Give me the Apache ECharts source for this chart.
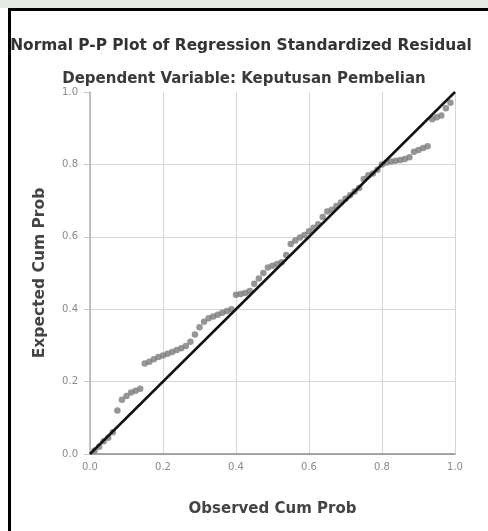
<!DOCTYPE html>
<html>
<head>
<meta charset="utf-8">
<script src="https://cdn.jsdelivr.net/npm/echarts@6/dist/echarts.min.js"></script>
<style>
    html, body { margin: 0; padding: 0; background: #fff; }
    #chart { width: 488px; height: 531px; }
</style>
</head>
<body>
<div id="chart"></div>
<script>
    // observed cum prob (x) and expected cum prob (y)
    var observed = [0.0125, 0.025, 0.0375, 0.05, 0.0625, 0.075, 0.0875, 0.1, 0.1125, 0.125,
        0.1375, 0.15, 0.1625, 0.175, 0.1875, 0.2, 0.2125, 0.225, 0.2375, 0.25,
        0.2625, 0.275, 0.2875, 0.3, 0.3125, 0.325, 0.3375, 0.35, 0.3625, 0.375,
        0.3875, 0.4, 0.4125, 0.425, 0.4375, 0.45, 0.4625, 0.475, 0.4875, 0.5,
        0.5125, 0.525, 0.5375, 0.55, 0.5625, 0.575, 0.5875, 0.6, 0.6125, 0.625,
        0.6375, 0.65, 0.6625, 0.675, 0.6875, 0.7, 0.7125, 0.725, 0.7375, 0.75,
        0.7625, 0.775, 0.7875, 0.8, 0.8125, 0.825, 0.8375, 0.85, 0.8625, 0.875,
        0.8875, 0.9, 0.9125, 0.925, 0.9375, 0.95, 0.9625, 0.975, 0.9875];
    var expected = [0.01, 0.02, 0.035, 0.045, 0.06, 0.12, 0.15, 0.16, 0.17, 0.175,
        0.18, 0.25, 0.255, 0.262, 0.268, 0.272, 0.277, 0.282, 0.287, 0.292,
        0.298, 0.31, 0.33, 0.35, 0.365, 0.375, 0.38, 0.385, 0.39, 0.395,
        0.40, 0.44, 0.442, 0.445, 0.45, 0.47, 0.485, 0.5, 0.515, 0.52,
        0.525, 0.53, 0.55, 0.58, 0.59, 0.598, 0.605, 0.615, 0.625, 0.635,
        0.655, 0.67, 0.675, 0.685, 0.695, 0.705, 0.715, 0.725, 0.735, 0.76,
        0.77, 0.775, 0.785, 0.80, 0.805, 0.808, 0.81, 0.812, 0.815, 0.82,
        0.835, 0.84, 0.845, 0.85, 0.925, 0.93, 0.935, 0.955, 0.97];
    var refLine = [[0, 0], [1, 1]];
    var tickLabels = ['0.0', '0.2', '0.4', '0.6', '0.8', '1.0'];

    var points = [];
    for (var i = 0; i < observed.length; i++) {
        points.push([observed[i], expected[i]]);
    }

    var font = '"DejaVu Sans", Verdana, sans-serif';
    var axisLabel = {
        color: '#8a8a8a',
        fontSize: 10,
        fontFamily: font,
        formatter: function (v) { return tickLabels[Math.round(v * 5)]; }
    };

    var myChart = echarts.init(document.getElementById('chart'));
    myChart.setOption({
        animation: false,
        backgroundColor: '#fff',
        graphic: [
            { type: 'rect', shape: { x: 0, y: 0, width: 488, height: 8 }, style: { fill: '#e6e9e6' } },
            { type: 'rect', shape: { x: 8, y: 8, width: 480, height: 3 }, style: { fill: '#000' }, z: 10 },
            { type: 'rect', shape: { x: 8, y: 8, width: 3, height: 523 }, style: { fill: '#000' }, z: 10 }
        ],
        title: [{
            text: 'Normal P-P Plot of Regression Standardized Residual',
            left: 236,
            top: 33,
            textAlign: 'center',
            textStyle: { fontSize: 15.4, fontWeight: 'bold', color: '#333', fontFamily: font }
        }, {
            text: 'Dependent Variable: Keputusan Pembelian',
            left: 239,
            top: 67,
            textAlign: 'center',
            textStyle: { fontSize: 15, fontWeight: 'bold', color: '#3a3a3a', fontFamily: font }
        }],
        grid: {
            left: 90,
            right: 33,
            top: 92,
            bottom: 77
        },
        xAxis: {
            type: 'value',
            min: 0,
            max: 1,
            interval: 0.2,
            name: 'Observed Cum Prob',
            nameLocation: 'middle',
            nameGap: 48,
            nameTextStyle: { fontSize: 15, fontWeight: 'bold', color: '#444', fontFamily: font },
            axisLine: { lineStyle: { color: '#8a8a8a', width: 1.5 } },
            axisTick: { show: false },
            axisLabel: Object.assign({ margin: 8 }, axisLabel),
            splitLine: { lineStyle: { color: '#d6d6d6', width: 1 } }
        },
        yAxis: {
            type: 'value',
            min: 0,
            max: 1,
            interval: 0.2,
            name: 'Expected Cum Prob',
            nameLocation: 'middle',
            nameGap: 42,
            nameTextStyle: { fontSize: 15.5, fontWeight: 'bold', color: '#444', fontFamily: font },
            axisLine: { show: true, lineStyle: { color: '#b0b0b0', width: 1.5 } },
            axisTick: { show: true, length: 6, lineStyle: { color: '#c8c8c8' } },
            axisLabel: Object.assign({ margin: 12 }, axisLabel),
            splitLine: { showMaxLine: false, lineStyle: { color: '#d6d6d6', width: 1 } }
        },
        series: [{
            type: 'scatter',
            data: points,
            symbolSize: 6.5,
            itemStyle: { color: '#7c7c7c' },
            z: 2
        }, {
            type: 'line',
            data: refLine,
            symbol: 'none',
            lineStyle: { color: '#111', width: 2.5 },
            z: 3
        }]
    });
</script>
</body>
</html>
